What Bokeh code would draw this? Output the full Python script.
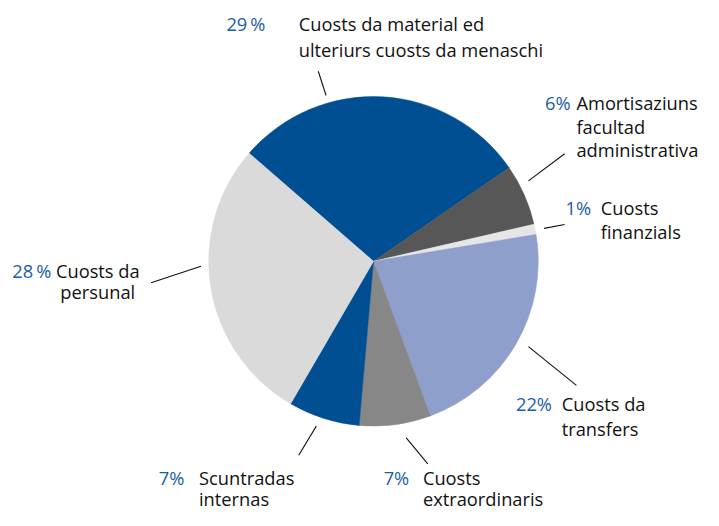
import numpy as np
from bokeh.plotting import figure
from bokeh.models import Range1d, ColumnDataSource
from bokeh.core.properties import value
from bokeh.embed import file_html
from bokeh.resources import INLINE

# ---- data ----
categories = [
    "Cuosts da material ed ulteriurs cuosts da menaschi",
    "Amortisaziuns facultad administrativa",
    "Cuosts finanzials",
    "Cuosts da transfers",
    "Cuosts extraordinaris",
    "Scuntradas internas",
    "Cuosts da persunal",
]
shares = [29, 6, 1, 22, 7, 7, 28]
pct_labels = ["29\u2009%", "6%", "1%", "22%", "7%", "7%", "28\u2009%"]
label_lines = [
    ["Cuosts da material ed", "ulteriurs cuosts da menaschi"],
    ["Amortisaziuns", "facultad", "administrativa"],
    ["Cuosts", "finanzials"],
    ["Cuosts da", "transfers"],
    ["Cuosts", "extraordinaris"],
    ["Scuntradas", "internas"],
    ["Cuosts da", "persunal"],
]
colors = ["#004f92", "#575757", "#e6e6e6", "#8f9fcb", "#878787", "#004f92", "#dadada"]

# ---- layout (reference pixel coordinates; y measured downward) ----
CX, CY, R = 381.5, 269.0, 168.5
START_DEG = 139.0
FONT = "Open Sans"
FS = "18.3px"
PCT_COLOR = "#1b5ea6"
TXT_DY = -7.5  # baseline correction

label_pos = [
    (271, 305, 31.5, 26.5, "left"),
    (583, 589, 113.0, 24.0, "left"),
    (604, 614, 221.5, 24.5, "left"),
    (564, 574, 423.0, 26.0, "left"),
    (418, 432, 499.5, 21.5, "left"),
    (188, 203, 499.5, 21.5, "left"),
    (52, 99.5, 286.0, 22.0, "center"),
]
leaders = [
    ((333, 98), (325, 73)),
    ((540, 186), (577, 158)),
    ((556, 235), (577, 231)),
    ((540, 357), (589, 397)),
    ((415, 451), (437, 478)),
    ((323, 439), (305, 469)),
    ((205, 274), (154, 291)),
]

W, H = 703, 510
REF_W, REF_H = 719, 526

p = figure(width=W, height=H, output_backend="svg", toolbar_location=None,
           x_range=Range1d(0, REF_W), y_range=Range1d(-REF_H, 0),
           min_border=0, background_fill_color="white", border_fill_color="white")
p.axis.visible = False
p.grid.visible = False
p.outline_line_color = None

vals = np.array(shares, dtype=float)
fr = vals / vals.sum()
cum = np.concatenate([[0.0], np.cumsum(fr)])
upper = np.deg2rad(START_DEG) - 2 * np.pi * cum[:-1]
lower = np.deg2rad(START_DEG) - 2 * np.pi * cum[1:]

src = ColumnDataSource(dict(x=[CX] * len(vals), y=[-CY] * len(vals),
                            start=lower, end=upper, color=colors, cat=categories))
p.wedge(x="x", y="y", radius=R, start_angle="start", end_angle="end",
        fill_color="color", line_color="color", line_width=0.5, source=src)

p.segment(x0=[a[0] for a, b in leaders], y0=[-a[1] for a, b in leaders],
          x1=[b[0] for a, b in leaders], y1=[-b[1] for a, b in leaders],
          line_color="#111111", line_width=1.1)

p.text(x=[lp[0] for lp in label_pos], y=[-(lp[2] + TXT_DY) for lp in label_pos], text=pct_labels,
       text_font=value(FONT), text_font_size=FS, text_color=PCT_COLOR,
       text_align="right", text_baseline="alphabetic")

for lines, (px, tx, by, sp, al) in zip(label_lines, label_pos):
    ys = [-(by + TXT_DY + i * sp) for i in range(len(lines))]
    p.text(x=[tx] * len(lines), y=ys, text=lines, text_font=value(FONT),
           text_font_size=FS, text_color="#111111", text_align=al,
           text_baseline="alphabetic")

open("out.html", "w").write(file_html(p, INLINE))
